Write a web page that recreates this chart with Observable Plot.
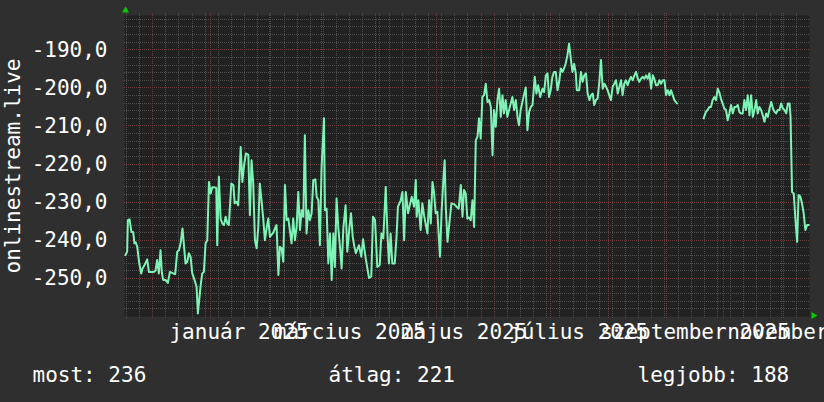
<!DOCTYPE html>
<html><head><meta charset="utf-8">
<script src="https://cdn.jsdelivr.net/npm/d3@7"></script>
<script src="https://cdn.jsdelivr.net/npm/@observablehq/plot@0.6"></script>
<style>
html,body{margin:0;padding:0;background:#2f2f2f;}
#chart{width:824px;height:402px;overflow:hidden;}
#chart svg{display:block;}
</style></head><body><div id="chart"></div>
<script>
const startDate = "2024-11-16";
const endDate = "2025-11-16";
// days since startDate
const dayOffsets = [
0.5,1.4,1.8,2.7,3.7,4.6,5.3,5.9,6.8,7.3,
8.0,8.9,9.6,10.7,12.1,13.0,14.2,15.6,16.5,17.4,
18.3,19.2,19.9,20.6,21.9,23.1,24.2,26.0,27.0,28.1,
29.0,29.9,30.9,31.6,32.5,33.4,34.3,35.2,36.1,37.3,
38.4,39.1,39.8,40.5,41.4,42.3,43.2,44.1,45.0,45.9,
46.8,48.0,48.9,49.4,50.3,51.2,52.1,53.0,53.9,54.8,
55.6,56.9,58.0,58.7,59.7,60.6,61.9,62.8,63.6,64.7,
66.0,66.8,67.7,68.6,69.5,70.4,71.3,72.1,73.0,74.0,
74.8,75.7,76.6,77.5,78.4,79.3,80.1,81.0,82.0,82.8,
83.7,84.6,85.5,86.4,87.3,88.1,89.0,89.9,90.8,91.7,
92.6,93.5,94.4,95.3,96.1,97.0,97.9,98.8,99.7,100.6,
101.7,102.4,103.3,104.1,105.0,106.3,106.8,107.7,108.6,109.5,
110.4,111.3,112.1,113.0,113.9,114.8,115.7,116.6,117.8,118.7,
119.8,120.7,121.6,122.5,123.3,124.9,126.2,127.1,128.5,130.3,
131.5,132.4,133.5,134.7,136.0,136.9,137.9,139.2,140.1,140.9,
141.8,142.7,144.0,144.9,145.7,147.2,148.1,149.0,149.9,151.1,
152.0,153.1,154.3,155.2,155.7,156.6,157.8,158.7,159.6,161.4,
162.3,163.2,164.1,164.9,165.8,166.7,168.1,169.0,169.9,170.6,
171.2,172.1,172.9,174.2,175.6,177.0,178.1,179.2,180.1,180.9,
181.8,182.7,183.6,184.5,185.4,186.3,187.2,188.1,188.9,189.8,
190.7,191.6,192.5,193.4,194.3,195.2,196.1,196.9,197.8,198.7,
199.6,200.5,201.4,202.2,203.1,204.0,204.9,205.8,206.7,207.6,
208.5,209.4,210.2,211.1,212.6,213.8,214.7,215.6,216.5,217.4,
218.6,219.5,220.4,221.5,222.7,223.6,224.5,225.4,226.2,227.1,
228.0,228.9,229.8,230.7,231.6,232.5,233.4,234.2,235.1,236.0,
236.9,237.8,238.7,239.6,240.5,241.0,242.3,243.2,244.1,245.0,
245.9,246.8,247.7,248.6,249.5,250.3,251.2,252.1,253.0,253.9,
254.8,255.7,256.6,257.4,258.3,259.2,260.1,261.0,261.9,262.8,
263.7,264.6,265.4,266.3,267.2,268.1,269.0,269.9,270.8,271.7,
272.6,273.5,274.3,275.2,276.1,277.0,277.9,278.8,279.7,280.6,
281.5,282.3,283.2,284.1,285.0,285.9,286.8,287.7,288.6,289.5,
290.4,291.2,292.1,293.0,294.4,301,
308.6,309.8,310.7,311.6,312.5,313.4,314.3,315.2,316.1,316.9,
317.8,318.7,319.6,320.5,321.4,322.3,323.2,324.1,325.0,325.9,
326.8,327.6,328.5,329.4,330.3,331.2,332.1,333.0,333.9,334.8,
335.7,336.6,337.4,338.3,339.2,340.1,341.0,341.9,342.8,343.7,
344.6,345.5,346.4,347.2,348.1,349.0,349.9,350.8,351.7,352.6,
353.5,354.4,354.9,355.7,356.6,357.4,358.4,359.2,360.1,361.0,361.9,362.8,363.7,364.6
];
const values = [
-243.9,-243,-234.7,-234.5,-237.8,-237.8,-240.8,-240.5,-241.7,-243.9,
-246.5,-248.7,-247.4,-246.5,-245,-248.3,-248.3,-248.3,-248,-245.2,
-248.7,-242.6,-248.5,-250.4,-250.4,-251.2,-248.3,-248.7,-248.9,-243,
-242.6,-240.8,-236.9,-240.8,-246.1,-245.7,-243.4,-244.3,-248.7,-250.4,
-252.2,-259.2,-255.7,-252.2,-248.7,-248.3,-240.8,-240,-224.7,-227.7,
-226.1,-226.1,-226.3,-241.3,-223.3,-234.3,-235.6,-236,-233.8,-235.6,
-236,-225.1,-225.5,-230.3,-229.9,-230.8,-215.5,-224.7,-220.7,-217.2,
-217.6,-233.4,-219,-225.1,-240,-242.1,-236.5,-225.1,-229.5,-234.7,
-240,-236.9,-234.3,-239.1,-238.5,-238,-236.9,-236,-249.1,-241.7,
-242.1,-245.6,-225.5,-234.7,-234.3,-237.3,-240.8,-234.3,-240,-236.5,
-227.3,-237.3,-232.1,-233.8,-212.4,-238.2,-232.1,-234.7,-232.9,-224.2,
-224,-228.6,-229.5,-241.3,-221.1,-208,-232.1,-231.7,-246.1,-238.2,
-250.4,-238.2,-247,-229,-236.5,-241.7,-247.4,-236.9,-230.8,-243,
-236.9,-232.9,-239.1,-241.7,-243.4,-241.3,-244.3,-239.7,-244.7,-249.9,
-249.5,-233.8,-234.7,-247,-246.5,-238.2,-239.5,-226,-238.2,-246.1,
-238.2,-246.1,-246.1,-239.5,-231.2,-229.5,-227.3,-240,-227.3,-232.9,
-230.8,-228.6,-231.2,-224.2,-233.8,-229.5,-237.3,-230.3,-233.4,-238.2,
-229.5,-235.6,-224.7,-227.3,-232.9,-232.5,-244.3,-232.1,-224.2,-219,
-231.2,-240.4,-236.5,-230.3,-230.5,-231.2,-231.7,-225.5,-233.8,-226.8,
-227.7,-234.3,-234,-234.7,-229.5,-236.5,-213.7,-212.8,-208,-213.3,
-202.4,-201.9,-198.9,-203.7,-203.2,-205,-217.7,-205.8,-210.2,-203.2,
-200.2,-207.6,-201.9,-206.7,-203.2,-207.6,-205.8,-204.1,-202.4,-205.8,
-203.2,-207.6,-209.8,-205.8,-202.4,-199.9,-211.1,-206.3,-205,-204.5,
-197.1,-201.5,-199.3,-202.4,-200.2,-201.1,-196.7,-196.2,-202.4,-200.6,
-197.1,-195.8,-195.8,-200.6,-198.4,-194.9,-195.8,-194.9,-193.6,-191.4,
-188.4,-192.3,-195.8,-193.7,-196.2,-200.6,-200.6,-195.8,-198.4,-196.7,
-196.2,-201.5,-203.2,-201.9,-201.5,-204.5,-203.2,-202.8,-198.4,-192.7,
-200.2,-198.9,-199.7,-200.6,-201.9,-203.2,-199.7,-198.9,-198,-201.5,
-199.7,-198,-201.9,-198.9,-198,-199.3,-198,-197.1,-198,-196.7,
-195.8,-197.6,-198.4,-197.6,-197.1,-197.6,-196.7,-197.6,-196.2,-200.2,
-196.7,-197.6,-199.3,-199.3,-198,-198.9,-198,-198,-201.9,-200.6,
-201.9,-200.6,-201.9,-203.2,-204.1,null,
-208,-206.3,-205.8,-205,-205,-203.2,-202.4,-203.2,-200.2,-201.1,
-202.8,-204.1,-205.4,-205.8,-208.5,-206.7,-204.5,-206.7,-205,-205,
-204.5,-206.3,-206.7,-206.7,-203.2,-205.8,-201.9,-207.2,-201.9,-207.6,
-205.8,-203.2,-206.7,-205,-205.8,-207.2,-208.9,-206.7,-207.6,-205.4,
-203.7,-205.4,-206.3,-206.7,-205.8,-205.8,-204.1,-205.4,-205.8,-206.7,
-204.1,-204.1,-207.6,-227.3,-227.7,-233.8,-240.4,-228.1,-228.5,-230.3,-232.9,-237.3,-236,-236
];
const yTickValues = [-250, -240, -230, -220, -210, -200, -190];
const yLabel = "onlinestream.live";
const xLabelDates = ["2025-01-16", "2025-03-16", "2025-05-16", "2025-07-16", "2025-09-16", "2025-11-16"];
const xLabels = ["január 2025", "március 2025", "május 2025", "július 2025", "szeptember 2025", "november 2025"];
const legendLabels = ["most", "átlag", "legjobb"];
const legendValues = [236, 221, 188];

const t0 = new Date(startDate + "T00:00:00Z");
const t1 = new Date(endDate + "T00:00:00Z");
const series = dayOffsets.map((d, i) => ({date: new Date(+t0 + d * 864e5), value: values[i]}));
const minorY = d3.range(-258, -181, 2).filter(v => v % 10 !== 0);
const weeks = d3.utcSunday.range(t0, t1);
const months = d3.utcMonth.range(t0, t1);

const font = "'DejaVu Sans Mono', monospace";
const legendDx = [-92, 204, 513];
const crisp = {shapeRendering: "crispEdges", strokeWidth: 1, strokeDasharray: "1,1"};

const chart = Plot.plot({
  width: 824, height: 402,
  marginLeft: 124, marginRight: 15, marginTop: 15, marginBottom: 86,
  style: {background: "#2f2f2f", fontFamily: font, fontSize: "21px", color: "#ffffff"},
  x: {type: "utc", domain: [t0, t1], axis: null},
  y: {domain: [-260, -181], axis: null},
  marks: [
    Plot.frame({fill: "#212121", stroke: "none"}),
    Plot.ruleY(minorY, {y: d => d, stroke: "#4e4e4e", ...crisp}),
    Plot.ruleX(weeks, {x: d => d, stroke: "#4e4e4e", ...crisp, insetTop: -2, insetBottom: -2}),
    Plot.ruleY(yTickValues, {y: d => d, stroke: "#6e3c3c", ...crisp}),
    Plot.ruleX(months, {x: d => d, stroke: "#6e3c3c", ...crisp, insetTop: -2, insetBottom: -2}),
    Plot.line(series, {x: "date", y: "value", stroke: "#7ef3b6", strokeWidth: 2, curve: "linear"}),
    Plot.dot([0], {frameAnchor: "top-left", dx: 1, dy: -5, symbol: "triangle", r: 2.6, fill: "#00cc00", stroke: "none"}),
    Plot.dot([0], {frameAnchor: "bottom-right", dx: 4, dy: -1, symbol: "triangle", rotate: 90, r: 2.6, fill: "#00cc00", stroke: "none"}),
    Plot.text(yTickValues, {y: d => d, text: d => d.toFixed(1).replace(".", ","), frameAnchor: "left", textAnchor: "end", dx: -17, fill: "#ffffff"}),
    Plot.text([yLabel], {text: d => d, frameAnchor: "left", textAnchor: "middle", rotate: -90, dx: -111.7, fill: "#ffffff"}),
    Plot.text(xLabels, {x: (d, i) => new Date(xLabelDates[i] + "T00:00:00Z"), text: d => d, frameAnchor: "bottom", textAnchor: "middle", dy: 22, lineAnchor: "bottom", fill: "#ffffff"}),
    ...legendLabels.map((lab, i) => Plot.text([lab], {text: d => `${d}: ${legendValues[i]}`, frameAnchor: "bottom-left", dx: legendDx[i], dy: 65, textAnchor: "start", lineAnchor: "bottom", fill: "#ffffff"}))
  ]
});
document.getElementById("chart").appendChild(chart);
</script></body></html>
